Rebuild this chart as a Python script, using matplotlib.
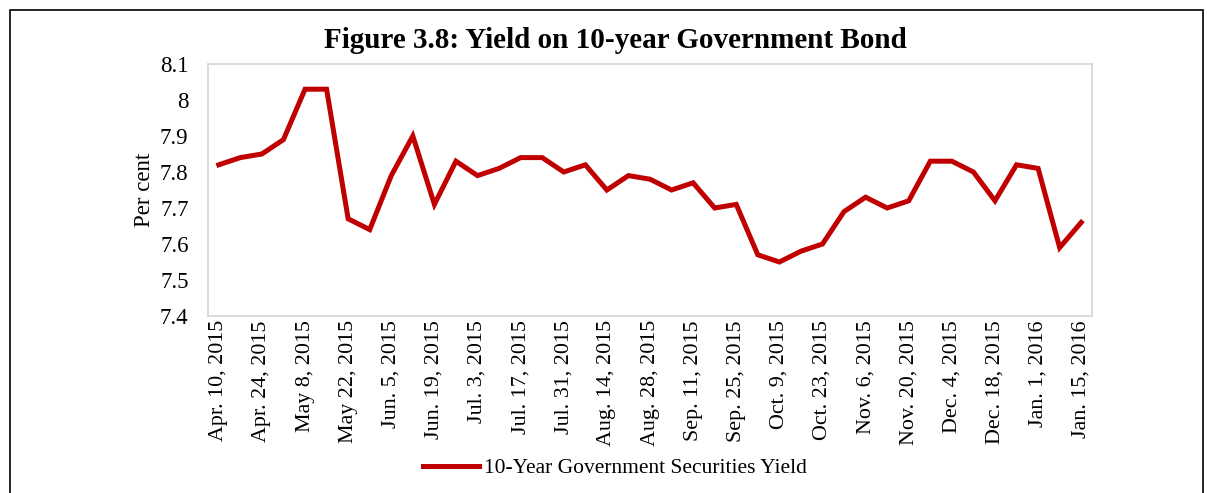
import matplotlib
matplotlib.use("Agg")
import matplotlib.pyplot as plt
from matplotlib.patches import Rectangle

plt.rcParams['font.family'] = ['Liberation Serif', 'DejaVu Serif']

dates = ["Apr. 10, 2015", "Apr. 17, 2015", "Apr. 24, 2015", "May 1, 2015", "May 8, 2015",
         "May 15, 2015", "May 22, 2015", "May 29, 2015", "Jun. 5, 2015", "Jun. 12, 2015",
         "Jun. 19, 2015", "Jun. 26, 2015", "Jul. 3, 2015", "Jul. 10, 2015", "Jul. 17, 2015",
         "Jul. 24, 2015", "Jul. 31, 2015", "Aug. 7, 2015", "Aug. 14, 2015", "Aug. 21, 2015",
         "Aug. 28, 2015", "Sep. 4, 2015", "Sep. 11, 2015", "Sep. 18, 2015", "Sep. 25, 2015",
         "Oct. 2, 2015", "Oct. 9, 2015", "Oct. 16, 2015", "Oct. 23, 2015", "Oct. 30, 2015",
         "Nov. 6, 2015", "Nov. 13, 2015", "Nov. 20, 2015", "Nov. 27, 2015", "Dec. 4, 2015",
         "Dec. 11, 2015", "Dec. 18, 2015", "Dec. 25, 2015", "Jan. 1, 2016", "Jan. 8, 2016",
         "Jan. 15, 2016"]
yields = [7.82, 7.84, 7.85, 7.89, 8.03, 8.03, 7.67, 7.64, 7.79, 7.90,
          7.71, 7.83, 7.79, 7.81, 7.84, 7.84, 7.80, 7.82, 7.75, 7.79,
          7.78, 7.75, 7.77, 7.70, 7.71, 7.57, 7.55, 7.58, 7.60, 7.69,
          7.73, 7.70, 7.72, 7.83, 7.83, 7.80, 7.72, 7.82, 7.81, 7.59,
          7.66]
yticks = [7.4, 7.5, 7.6, 7.7, 7.8, 7.9, 8.0, 8.1]
ytick_labels = ["7.4", "7.5", "7.6", "7.7", "7.8", "7.9", "8", "8.1"]
series_name = "10-Year Government Securities Yield"
title = "Figure 3.8: Yield on 10-year Government Bond"

W, H = 1207, 493
fig = plt.figure(figsize=(W / 100, H / 100), dpi=100)
ax = fig.add_axes([208 / W, 1 - 316 / H, (1092 - 208) / W, (316 - 64) / H])

x = list(range(len(yields)))
ax.plot(x, yields, color="#C00000", lw=3.6, solid_joinstyle="miter", label=series_name)
ax.set_xlim(-0.5, len(yields) - 0.5)
ax.set_ylim(7.4, 8.1)
ax.set_yticks(yticks)
ax.set_yticklabels(ytick_labels, fontsize=16.5)
ax.set_xticks(x[::2])
ax.set_xticklabels(dates[::2], rotation=90, fontsize=15.8)
ax.tick_params(axis="x", length=0, pad=3)
ax.tick_params(axis="y", length=0, pad=14)
for s in ax.spines.values():
    s.set_color("#D9D9D9")
    s.set_linewidth(1.3)
ax.set_ylabel("Per cent", fontsize=16.5, labelpad=3.5)

fig.text(615 / W, 1 - 40 / H, title, ha="center", va="center", fontsize=21, fontweight="bold")

fig.legend(loc="center", bbox_to_anchor=(615 / W, 1 - 468 / H), frameon=False, fontsize=15.5,
           handlelength=2.6, handletextpad=0.2)

fig.patches.append(Rectangle((10 / W, -0.1), (1203 - 10) / W, 1.1 - 10 / H + 0.0,
                             transform=fig.transFigure, fill=False, edgecolor="black", lw=1.2))

fig.savefig("out.png", dpi=100)
